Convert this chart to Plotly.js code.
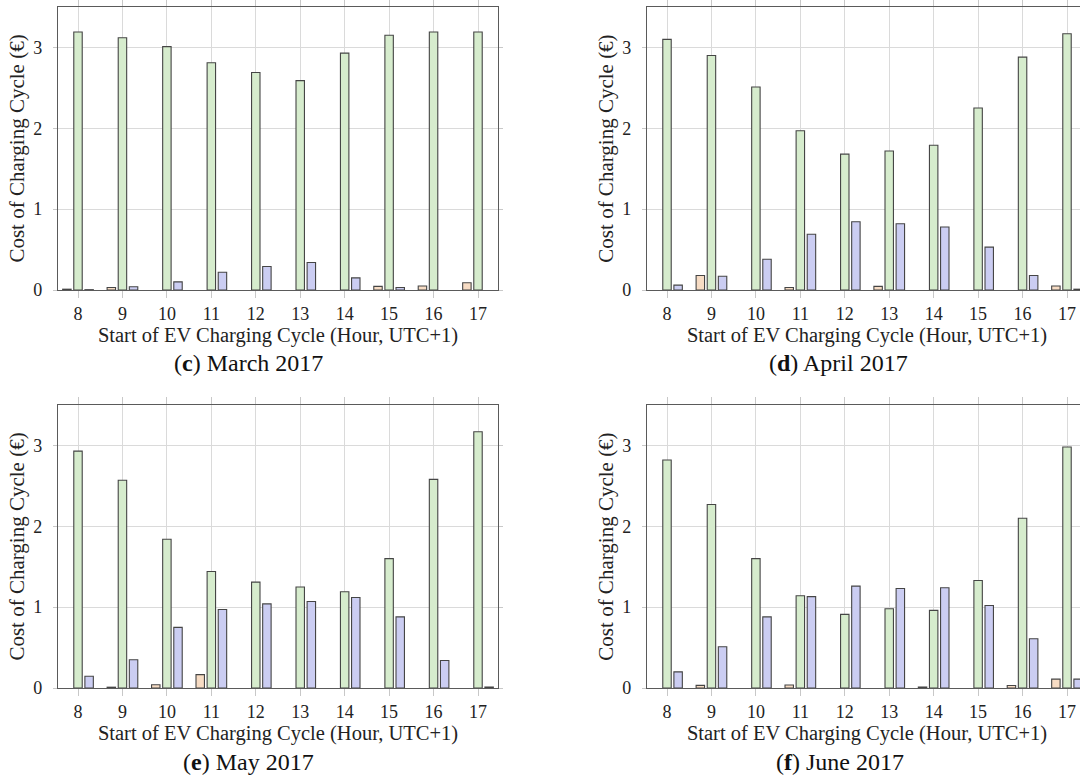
<!DOCTYPE html>
<html>
<head>
<meta charset="utf-8">
<script src="https://cdn.plot.ly/plotly-3.0.1.min.js"></script>
<style>
html,body{margin:0;padding:0;overflow:hidden;background:#fff;width:1080px;height:780px;}
#chart{width:1100px;height:780px;}
</style>
</head>
<body>
<div id="chart"></div>
<script>
// Hours (start of EV charging cycle)
const hours = [8, 9, 10, 11, 12, 13, 14, 15, 16, 17];
const xTickLabels = ['8','9','10','11','12','13','14','15','16','17'];
const yTickVals = [0, 1, 2, 3];

// (c) March 2017
const marchOrange = [0.01, 0.03, 0, 0, 0, 0, 0, 0.045, 0.05, 0.09];
const marchGreen  = [3.19, 3.12, 3.01, 2.81, 2.69, 2.59, 2.93, 3.15, 3.19, 3.19];
const marchBlue   = [0.004, 0.04, 0.10, 0.22, 0.29, 0.34, 0.15, 0.03, 0, 0];

// (d) April 2017
const aprilOrange = [0, 0.18, 0, 0.03, 0, 0.045, 0, 0, 0, 0.05];
const aprilGreen  = [3.10, 2.90, 2.51, 1.97, 1.68, 1.72, 1.79, 2.25, 2.88, 3.17];
const aprilBlue   = [0.06, 0.17, 0.38, 0.69, 0.845, 0.82, 0.78, 0.53, 0.18, 0.01];

// (e) May 2017
const mayOrange = [0, 0.01, 0.04, 0.165, 0, 0, 0, 0, 0, 0];
const mayGreen  = [2.93, 2.57, 1.84, 1.44, 1.31, 1.25, 1.19, 1.60, 2.58, 3.17];
const mayBlue   = [0.145, 0.35, 0.75, 0.97, 1.04, 1.07, 1.12, 0.88, 0.34, 0.012];

// (f) June 2017
const juneOrange = [0, 0.033, 0, 0.037, 0, 0, 0.012, 0, 0.03, 0.11];
const juneGreen  = [2.82, 2.27, 1.60, 1.14, 0.91, 0.98, 0.96, 1.33, 2.10, 2.98];
const juneBlue   = [0.20, 0.51, 0.88, 1.13, 1.26, 1.23, 1.24, 1.02, 0.61, 0.11];

const captions = ['(<b>c</b>) March 2017', '(<b>d</b>) April 2017', '(<b>e</b>) May 2017', '(<b>f</b>) June 2017'];
const xTitle = 'Start of EV Charging Cycle (Hour, UTC+1)';
const yTitle = 'Cost of Charging Cycle (€)';

const panels = [
  [marchOrange, marchGreen, marchBlue],
  [aprilOrange, aprilGreen, aprilBlue],
  [mayOrange, mayGreen, mayBlue],
  [juneOrange, juneGreen, juneBlue]
];

const fills = ['#f7dcc4', '#d6eccd', '#cbcdf2'];
const edge = '#454545';
const serif = 'Liberation Serif, Times New Roman, serif';

const traces = [];
panels.forEach((series, p) => {
  const ax = p === 0 ? '' : String(p + 1);
  series.forEach((vals, s) => {
    traces.push({
      type: 'bar',
      x: hours,
      // a zero cost leaves no visible bar in the original figure
      y: vals.map(v => (v === 0 ? null : v)),
      xaxis: 'x' + ax,
      yaxis: 'y' + ax,
      marker: {color: fills[s], line: {color: edge, width: 1.1}},
      showlegend: false,
      hoverinfo: 'x+y'
    });
  });
});

const W = 1100, H = 780;
const xDom = [[58 / W, 498 / W], [647 / W, 1087 / W]];
const yDom = [[1 - 290 / H, 1 - 7 / H], [1 - 688 / H, 1 - 405 / H]];

function xAxis(col, anchor) {
  return {
    domain: xDom[col], anchor: anchor,
    range: [7.55, 17.45],
    tickvals: hours, ticktext: xTickLabels,
    ticks: 'outside', ticklen: 7, tickcolor: '#c8c8c8', tickwidth: 1,
    showline: true, linecolor: '#5a5a5a', linewidth: 1.2, mirror: 'ticks',
    showgrid: true, gridcolor: '#dadada', gridwidth: 1,
    zeroline: false,
    tickfont: {family: serif, size: 18, color: '#222'},
    title: {text: xTitle, font: {family: serif, size: 20.5, color: '#222'}, standoff: 0}
  };
}
function yAxis(row, anchor) {
  return {
    domain: yDom[row], anchor: anchor,
    range: [0, 3.5],
    tickvals: yTickVals,
    ticks: 'outside', ticklen: 4, tickcolor: '#c8c8c8', tickwidth: 1,
    ticklabelstandoff: 7,
    showline: true, linecolor: '#5a5a5a', linewidth: 1.2, mirror: 'ticks',
    showgrid: true, gridcolor: '#dadada', gridwidth: 1,
    zeroline: false,
    tickfont: {family: serif, size: 18, color: '#222'},
    title: {text: yTitle, font: {family: serif, size: 21, color: '#222'}, standoff: 2}
  };
}

const layout = {
  width: W, height: H,
  margin: {l: 0, r: 0, t: 0, b: 0},
  paper_bgcolor: '#fff', plot_bgcolor: '#fff',
  barmode: 'group', bargap: 0.25, bargroupgap: 0.24,
  xaxis: xAxis(0, 'y'), yaxis: yAxis(0, 'x'),
  xaxis2: xAxis(1, 'y2'), yaxis2: yAxis(0, 'x2'),
  xaxis3: xAxis(0, 'y3'), yaxis3: yAxis(1, 'x3'),
  xaxis4: xAxis(1, 'y4'), yaxis4: yAxis(1, 'x4'),
  annotations: [
    {text: captions[0], x: 249 / W, y: 1 - 363 / H},
    {text: captions[1], x: 838 / W, y: 1 - 363 / H},
    {text: captions[2], x: 249 / W, y: 1 - 762 / H},
    {text: captions[3], x: 840 / W, y: 1 - 762 / H}
  ].map(a => Object.assign(a, {xref: 'paper', yref: 'paper', xanchor: 'center', yanchor: 'middle', showarrow: false, font: {family: serif, size: 24, color: '#111'}}))
};

Plotly.newPlot('chart', traces, layout, {displayModeBar: false, responsive: false});
</script>
</body>
</html>
